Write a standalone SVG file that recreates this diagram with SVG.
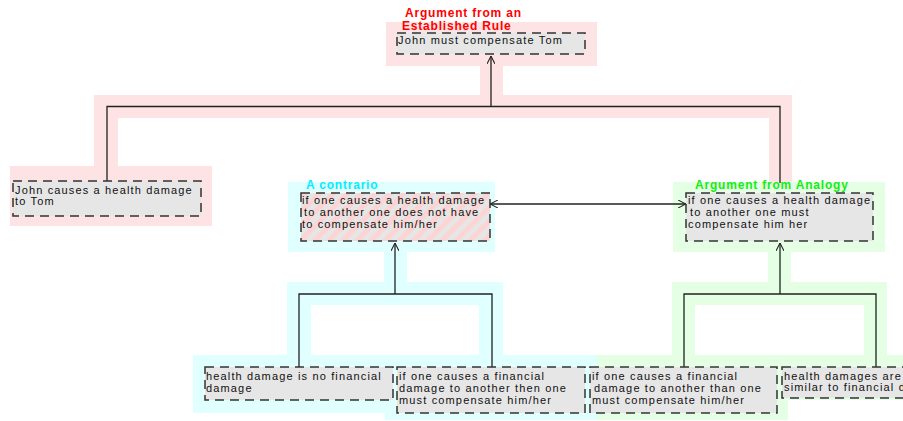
<svg xmlns="http://www.w3.org/2000/svg" width="903" height="421" viewBox="0 0 903 421">
<style>
.box{fill:#e6e6e6;stroke:#333;stroke-width:1.5;stroke-dasharray:9 6}
.t{font-family:"Liberation Sans",Arial,sans-serif;font-size:11px;letter-spacing:1.15px;fill:#111}
.lbl{font-family:"Liberation Sans",Arial,sans-serif;font-size:12px;font-weight:bold;letter-spacing:0.8px}
.pink{fill:#fde3e3}
.cyan{fill:#e0ffff}
.green{fill:#e4ffe4}
.conn{fill:none;stroke:#222;stroke-width:1.3}
</style>
<defs>
<marker id="arr" viewBox="0 0 10 10" refX="10" refY="5" markerWidth="8" markerHeight="8" markerUnits="userSpaceOnUse" orient="auto-start-reverse">
<path d="M0,0 L10,5 L0,10" fill="none" stroke="#222" stroke-width="1.3"/>
</marker>
<pattern id="hatch" width="10" height="10" patternUnits="userSpaceOnUse" patternTransform="rotate(45)">
<rect width="10" height="10" fill="#e6e6e6"/>
<rect width="5" height="10" fill="#fdd4d4"/>
</pattern>
</defs>
<g id="backgrounds">
<g class="pink">
<rect x="386" y="22" width="211" height="44"/>
<rect x="480" y="66" width="23" height="30"/>
<rect x="94" y="95" width="698" height="23"/>
<rect x="94" y="118" width="24" height="50"/>
<rect x="769" y="118" width="23" height="64"/>
<rect x="10" y="166" width="202" height="60"/>
</g>
<g class="green">
<rect x="673" y="182" width="212" height="70"/>
<rect x="768" y="252" width="23" height="30"/>
<rect x="672" y="282" width="215" height="23"/>
<rect x="672" y="305" width="23" height="50"/>
<rect x="864" y="305" width="23" height="50"/>
<rect x="597" y="355" width="191" height="65"/>
<rect x="777" y="355" width="126" height="45"/>
</g>
<g class="cyan">
<rect x="288" y="182" width="207" height="70"/>
<rect x="384" y="252" width="23" height="30"/>
<rect x="287" y="282" width="216" height="23"/>
<rect x="287" y="305" width="24" height="50"/>
<rect x="479" y="305" width="24" height="50"/>
<rect x="193" y="355" width="210" height="58"/>
<rect x="385" y="355" width="212" height="65"/>
</g>
</g>
<g id="connectors">
<path class="conn" d="M107,181 V106.5 H780 V183"/>
<path class="conn" d="M491,106.5 V56" marker-end="url(#arr)"/>
<path class="conn" d="M490,204 H686" marker-start="url(#arr)" marker-end="url(#arr)"/>
<path class="conn" d="M299,367 V294 H492 V367"/>
<path class="conn" d="M395,294 V243" marker-end="url(#arr)"/>
<path class="conn" d="M684,367 V294 H876 V367"/>
<path class="conn" d="M780,294 V243" marker-end="url(#arr)"/>
</g>
<g id="n-established">
<text class="lbl" x="405" y="17" fill="#ff0000">Argument from an</text>
<text class="lbl" x="402" y="30" fill="#ff0000">Established Rule</text>
<rect class="box" x="397" y="33" width="188" height="21"/>
<text class="t" x="398" y="44">John must compensate Tom</text>
</g>
<g id="n-john-causes">
<rect class="box" x="13" y="181" width="188" height="35"/>
<text class="t" x="15" y="193.5">John causes a health damage</text>
<text class="t" x="15" y="205">to Tom</text>
</g>
<g id="n-contrario">
<text class="lbl" x="306" y="189" fill="#00eeff">A contrario</text>
<rect class="box" x="301" y="193" width="189" height="48" style="fill:url(#hatch)"/>
<text class="t" x="302" y="203.5">if one causes a health damage</text>
<text class="t" x="304" y="215.5">to another one does not have</text>
<text class="t" x="302" y="227.5">to compensate him/her</text>
</g>
<g id="n-analogy">
<text class="lbl" x="695" y="189" fill="#11ee11">Argument from Analogy</text>
<rect class="box" x="686" y="193" width="187" height="48"/>
<text class="t" x="688" y="203.5">if one causes a health damage</text>
<text class="t" x="690" y="215.5">to another one must</text>
<text class="t" x="688" y="227.5">compensate him her</text>
</g>
<g id="n-no-financial">
<rect class="box" x="205" y="367" width="188" height="33"/>
<text class="t" x="206" y="380">health damage is no financial</text>
<text class="t" x="206" y="392">damage</text>
</g>
<g id="n-financial-then">
<rect class="box" x="397" y="367" width="188" height="46"/>
<text class="t" x="399" y="380">if one causes a financial</text>
<text class="t" x="399" y="392">damage to another then one</text>
<text class="t" x="399" y="404">must compensate him/her</text>
</g>
<g id="n-financial-than">
<rect class="box" x="590" y="367" width="187" height="46"/>
<text class="t" x="592" y="380">if one causes a financial</text>
<text class="t" x="594" y="392">damage to another than one</text>
<text class="t" x="592" y="404">must compensate him/her</text>
</g>
<g id="n-similar">
<rect class="box" x="782" y="367" width="188" height="31"/>
<text class="t" x="784" y="380">health damages are</text>
<text class="t" x="784" y="391">similar to financial damage</text>
</g>
</svg>
